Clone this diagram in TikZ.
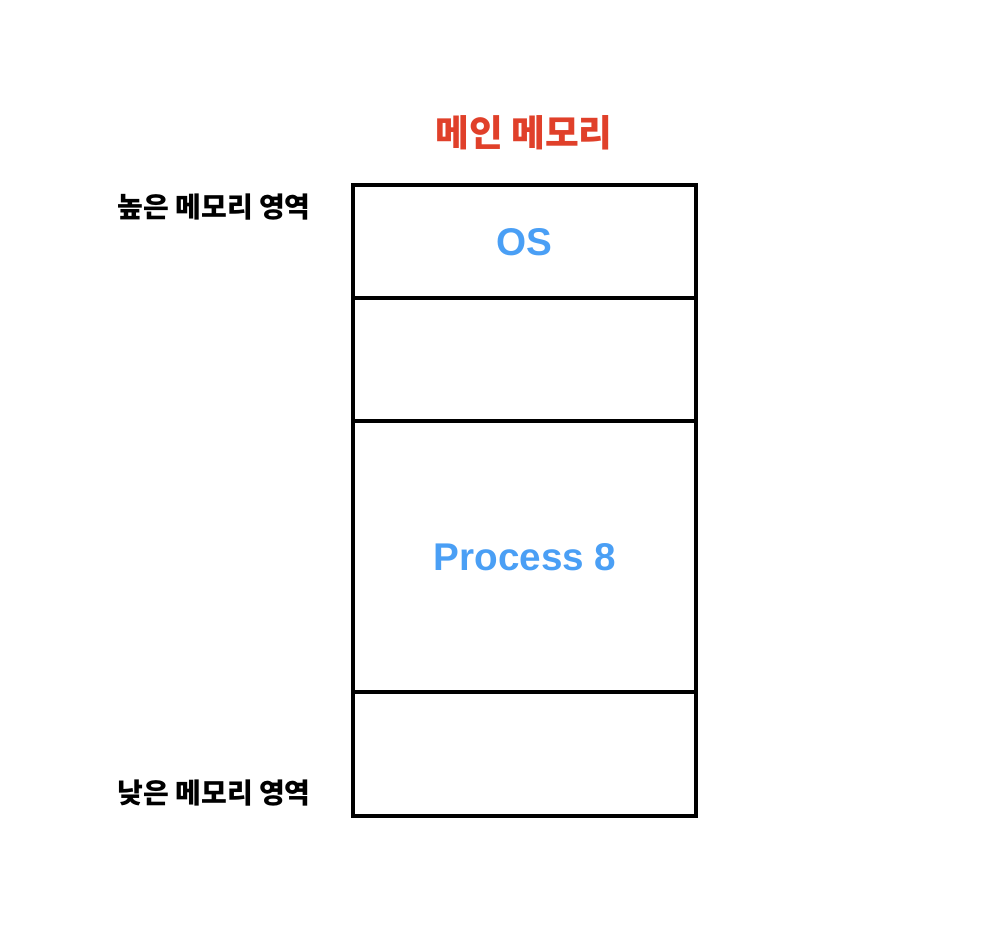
\documentclass[tikz,border=0pt]{standalone}
\usepackage{fontspec}
\setmainfont{Liberation Sans}
\newfontfamily\korfont{Noto Sans CJK KR}

\definecolor{titlered}{HTML}{E0402A}
\definecolor{segblue}{HTML}{4A9FF5}

\tikzset{
    memline/.style={line width=3.2pt,black},
    segtext/.style={font=\fontsize{29}{31}\selectfont\bfseries,text=segblue},
    sidetext/.style={font=\korfont\fontsize{21}{23}\selectfont\bfseries,anchor=east,inner sep=0pt}
}

\begin{document}
\begin{tikzpicture}[x=0.75pt,y=-0.75pt]
        \useasboundingbox (0,0) rectangle (990,952);

        % corners of the memory column and the borders between segments
        \coordinate (m0l) at (353,185);
        \coordinate (m0r) at (696,185);
        \coordinate (m1l) at (353,298);
        \coordinate (m1r) at (696,298);
        \coordinate (m2l) at (353,421);
        \coordinate (m2r) at (696,421);
        \coordinate (m3l) at (353,692);
        \coordinate (m3r) at (696,692);
        \coordinate (m4l) at (353,816);
        \coordinate (m4r) at (696,816);

        \draw[memline] (m0l) rectangle (m4r);
        \draw[memline] (m1l) -- (m1r);
        \draw[memline] (m2l) -- (m2r);
        \draw[memline] (m3l) -- (m3r);

        \node[font=\korfont\fontsize{27.5}{29}\selectfont\bfseries,text=titlered] (title) at (524,133) {메인 메모리};

        \node[segtext] (os) at (524.5,242) {OS};
        \node[segtext] (proc) at (525,557) {Process 8};

        \node[sidetext] (high) at (311,207) {높은 메모리 영역};
        \node[sidetext] (low) at (311,793) {낮은 메모리 영역};
    \end{tikzpicture}
\end{document}
